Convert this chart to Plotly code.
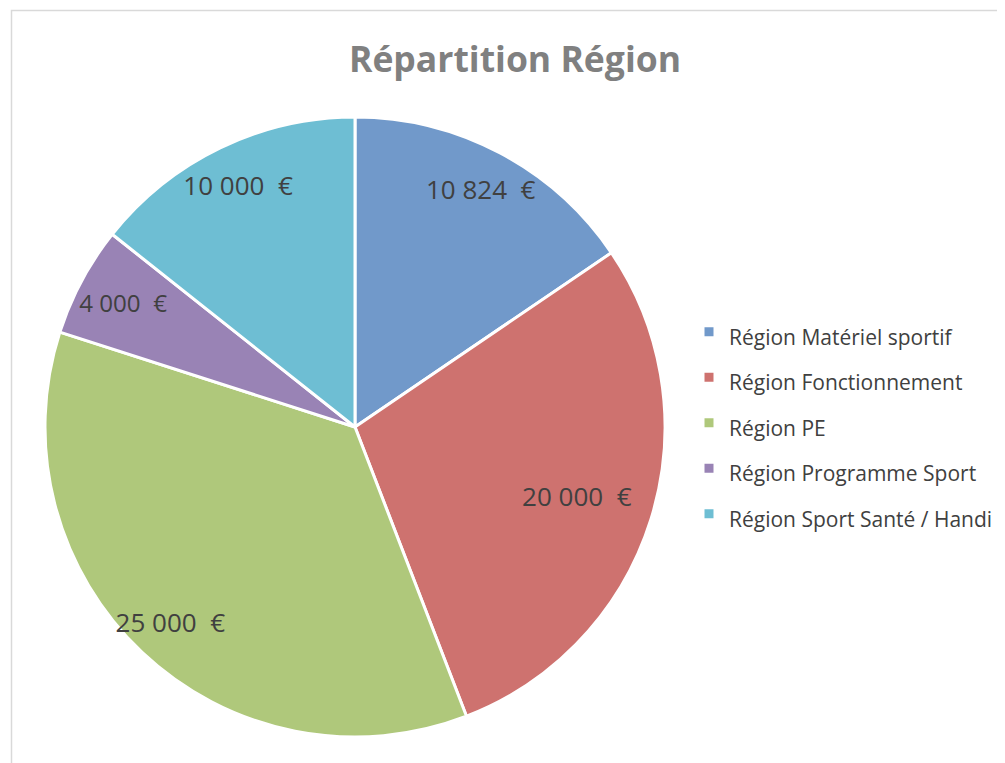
import plotly.graph_objects as go

categories = ["Région Matériel sportif", "Région Fonctionnement", "Région PE",
              "Région Programme Sport", "Région Sport Santé / Handi"]
values = [10824, 20000, 25000, 4000, 10000]
value_labels = ["10 824  €", "20 000  €", "25 000  €", "4 000  €", "10 000  €"]
colors = ["#7199CA", "#CE726F", "#AFC87B", "#9983B5", "#6EBED3"]

# the page body has an 8px margin, so the figure is 8px smaller than the window
W, H = 997, 755
FONT = "Open Sans"
TEXT_COLOR = "#404040"

CX, CY, R = 347, 419, 310          # pie centre / radius in figure pixels
R_TEXT = min(CY, H - CY)            # larger invisible ring used to push labels outward


def dom(r):
    return dict(x=[(CX - r) / W, (CX + r) / W], y=[1 - (CY + r) / H, 1 - (CY - r) / H])


legend_labels = [f"<span style='font-size:21px'>{c}</span>" for c in categories]

fig = go.Figure()

# visible pie
fig.add_trace(go.Pie(
    labels=legend_labels,
    values=values,
    textinfo="none",
    marker=dict(colors=colors, line=dict(color="white", width=3)),
    sort=False, direction="clockwise", rotation=0,
    domain=dom(R),
    hovertext=categories, hoverinfo="text+value",
))

# label layer 1: outer labels (slices 0, 2, 4)
outer = [0, 2, 4]
fig.add_trace(go.Pie(
    labels=categories, values=values,
    text=[t if i in outer else "" for i, t in enumerate(value_labels)],
    textinfo="text", textposition="inside", insidetextorientation="horizontal",
    textfont=dict(family=FONT, size=26, color=TEXT_COLOR),
    marker=dict(colors=["rgba(0,0,0,0)"] * len(values), line=dict(width=0)),
    hole=0.6, sort=False, direction="clockwise", rotation=0,
    domain=dom(R_TEXT), showlegend=False, hoverinfo="skip",
))

# label layer 2: slices 1 and 3
inner = [1, 3]
fig.add_trace(go.Pie(
    labels=categories, values=values,
    text=[t if i in inner else "" for i, t in enumerate(value_labels)],
    textinfo="text", textposition="inside", insidetextorientation="horizontal",
    textfont=dict(family=FONT, size=26, color=TEXT_COLOR),
    marker=dict(colors=["rgba(0,0,0,0)"] * len(values), line=dict(width=0)),
    hole=0.5, sort=False, direction="clockwise", rotation=0,
    domain=dom(R), showlegend=False, hoverinfo="skip",
))

fig.update_layout(
    width=W, height=H,
    margin=dict(l=0, r=0, t=0, b=0),
    paper_bgcolor="white",
    plot_bgcolor="white",
    title=dict(text="<b>Répartition Région</b>", x=507 / W, xanchor="center",
               y=1 - 52 / H, yanchor="middle",
               font=dict(family=FONT, size=35.5, color="#808080")),
    legend=dict(x=681 / W, xanchor="left", y=1 - (CY - 4) / H, yanchor="middle",
                font=dict(family=FONT, size=32.7, color=TEXT_COLOR),
                bgcolor="rgba(0,0,0,0)"),
    shapes=[dict(type="rect", xref="paper", yref="paper",
                 x0=3.5 / W, x1=1.02, y0=-0.02, y1=1 - 2.5 / H,
                 line=dict(color="#D9D9D9", width=1.5), fillcolor="rgba(0,0,0,0)",
                 layer="below")],
)

fig.write_html("out.html")
